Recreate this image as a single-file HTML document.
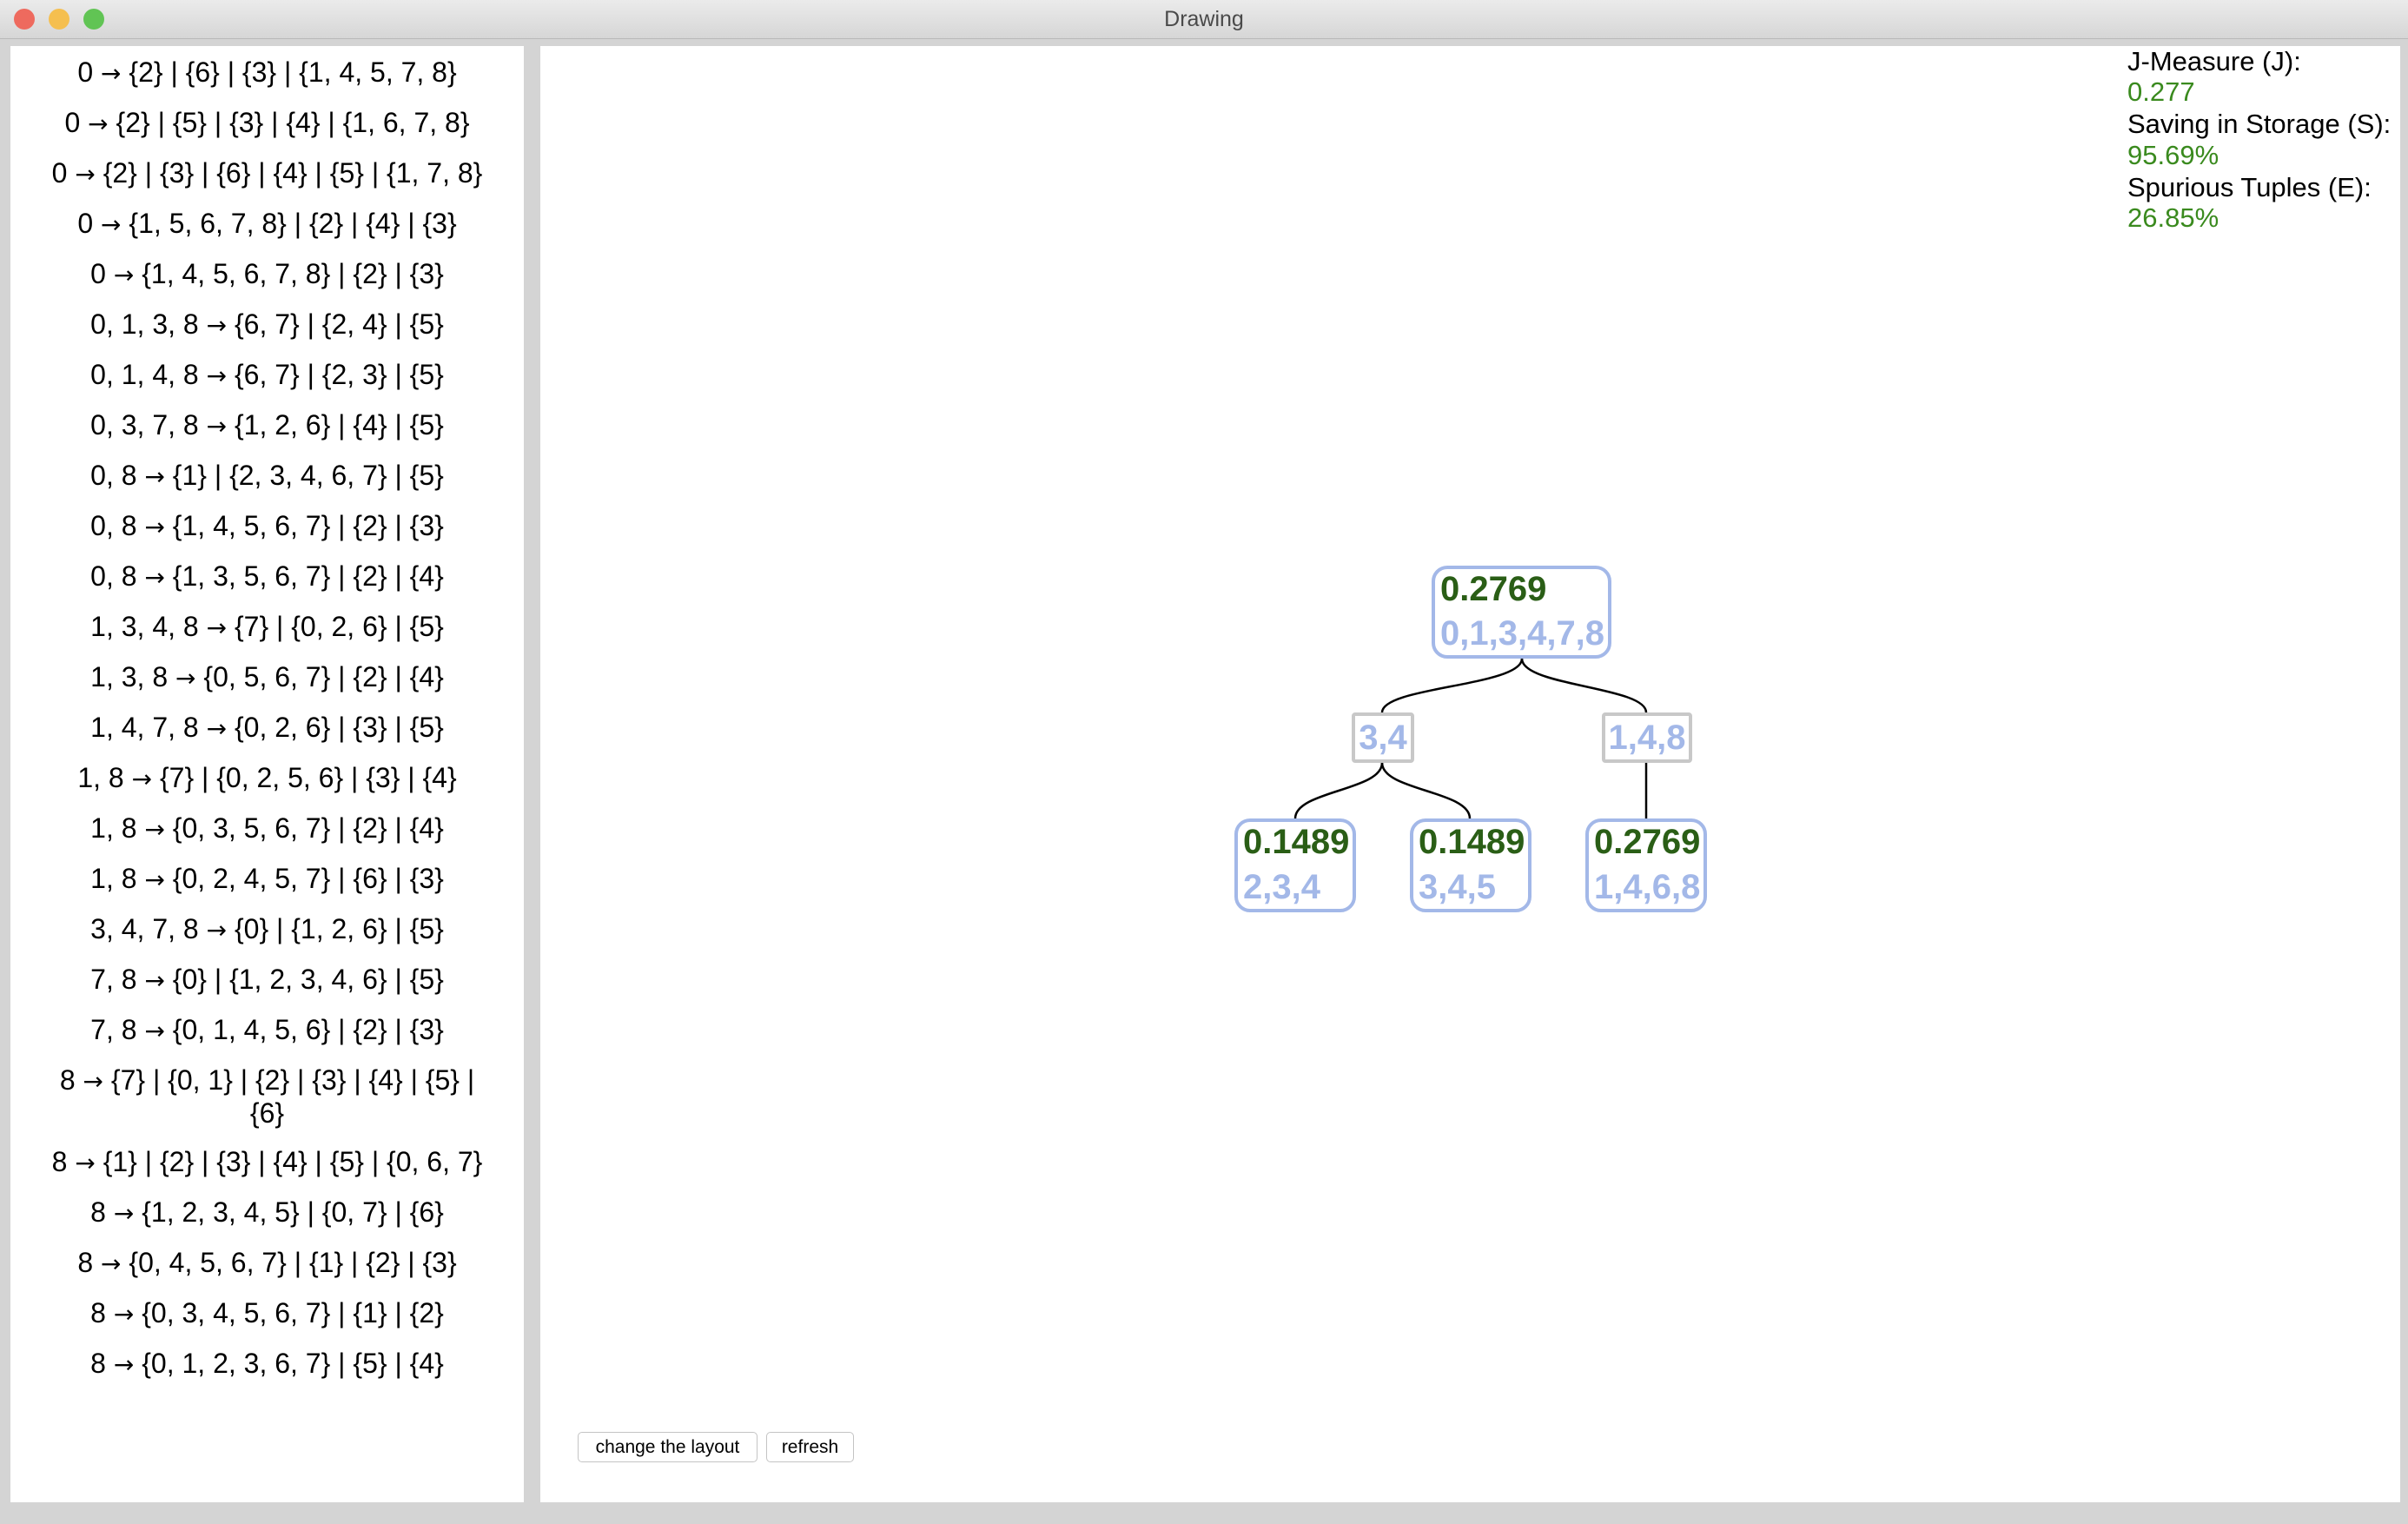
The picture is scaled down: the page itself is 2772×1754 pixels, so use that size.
<!DOCTYPE html>
<html><head><meta charset="utf-8"><style>
body{margin:0;width:2772px;height:1754px;background:#d4d4d4;position:relative;overflow:hidden;font-family:"Liberation Sans",Arial,sans-serif}
.tb{position:absolute;left:0;top:0;width:2772px;height:44px;background:linear-gradient(#ebebeb,#d6d6d6);border-bottom:1px solid #b8b8b8;text-align:center;font-size:25px;line-height:44px;color:#4a4a4a}
.dot{position:absolute;top:10px;width:24px;height:24px;border-radius:50%}
.lp{position:absolute;left:12px;top:53px;width:591px;height:1676px;background:#fff}
.rp{position:absolute;left:622px;top:53px;width:2141px;height:1676px;background:#fff}
.li{position:absolute;left:12px;width:591px;text-align:center;font-size:32px;color:#000;line-height:36px}
.a{font-family:"DejaVu Sans",sans-serif;font-size:28px}
.node{position:absolute;box-sizing:border-box;border:4px solid #a3b8e8;border-radius:18px;background:#fff;font-weight:bold;font-size:40px}
.g{color:#2a5e16}.b{color:#a3b8e8}
.mid{position:absolute;box-sizing:border-box;border:4px solid #c8c8c8;border-radius:4px;background:#fff;font-weight:bold;font-size:40px;color:#a3b8e8;text-align:center;line-height:50px}
.m{position:absolute;left:2449px;font-size:31px;line-height:36px}
.btn{position:absolute;top:1648px;height:35px;box-sizing:border-box;border:1px solid #c4c4c4;border-radius:5px;background:#fff;font-size:21px;line-height:33px;text-align:center}
</style></head><body>
<div class="tb">Drawing</div>
<div class="dot" style="left:16px;background:#ee6a5e"></div>
<div class="dot" style="left:56px;background:#f5bf4f"></div>
<div class="dot" style="left:96px;background:#61c454"></div>
<div class="lp"></div><div class="rp"></div>

<div class="li" style="top:65px">0 <span class="a">→</span> {2} | {6} | {3} | {1, 4, 5, 7, 8}</div>
<div class="li" style="top:123px">0 <span class="a">→</span> {2} | {5} | {3} | {4} | {1, 6, 7, 8}</div>
<div class="li" style="top:181px">0 <span class="a">→</span> {2} | {3} | {6} | {4} | {5} | {1, 7, 8}</div>
<div class="li" style="top:239px">0 <span class="a">→</span> {1, 5, 6, 7, 8} | {2} | {4} | {3}</div>
<div class="li" style="top:297px">0 <span class="a">→</span> {1, 4, 5, 6, 7, 8} | {2} | {3}</div>
<div class="li" style="top:355px">0, 1, 3, 8 <span class="a">→</span> {6, 7} | {2, 4} | {5}</div>
<div class="li" style="top:413px">0, 1, 4, 8 <span class="a">→</span> {6, 7} | {2, 3} | {5}</div>
<div class="li" style="top:471px">0, 3, 7, 8 <span class="a">→</span> {1, 2, 6} | {4} | {5}</div>
<div class="li" style="top:529px">0, 8 <span class="a">→</span> {1} | {2, 3, 4, 6, 7} | {5}</div>
<div class="li" style="top:587px">0, 8 <span class="a">→</span> {1, 4, 5, 6, 7} | {2} | {3}</div>
<div class="li" style="top:645px">0, 8 <span class="a">→</span> {1, 3, 5, 6, 7} | {2} | {4}</div>
<div class="li" style="top:703px">1, 3, 4, 8 <span class="a">→</span> {7} | {0, 2, 6} | {5}</div>
<div class="li" style="top:761px">1, 3, 8 <span class="a">→</span> {0, 5, 6, 7} | {2} | {4}</div>
<div class="li" style="top:819px">1, 4, 7, 8 <span class="a">→</span> {0, 2, 6} | {3} | {5}</div>
<div class="li" style="top:877px">1, 8 <span class="a">→</span> {7} | {0, 2, 5, 6} | {3} | {4}</div>
<div class="li" style="top:935px">1, 8 <span class="a">→</span> {0, 3, 5, 6, 7} | {2} | {4}</div>
<div class="li" style="top:993px">1, 8 <span class="a">→</span> {0, 2, 4, 5, 7} | {6} | {3}</div>
<div class="li" style="top:1051px">3, 4, 7, 8 <span class="a">→</span> {0} | {1, 2, 6} | {5}</div>
<div class="li" style="top:1109px">7, 8 <span class="a">→</span> {0} | {1, 2, 3, 4, 6} | {5}</div>
<div class="li" style="top:1167px">7, 8 <span class="a">→</span> {0, 1, 4, 5, 6} | {2} | {3}</div>
<div class="li" style="top:1225px">8 <span class="a">→</span> {7} | {0, 1} | {2} | {3} | {4} | {5} |<br>{6}</div>
<div class="li" style="top:1319px">8 <span class="a">→</span> {1} | {2} | {3} | {4} | {5} | {0, 6, 7}</div>
<div class="li" style="top:1377px">8 <span class="a">→</span> {1, 2, 3, 4, 5} | {0, 7} | {6}</div>
<div class="li" style="top:1435px">8 <span class="a">→</span> {0, 4, 5, 6, 7} | {1} | {2} | {3}</div>
<div class="li" style="top:1493px">8 <span class="a">→</span> {0, 3, 4, 5, 6, 7} | {1} | {2}</div>
<div class="li" style="top:1551px">8 <span class="a">→</span> {0, 1, 2, 3, 6, 7} | {5} | {4}</div>

<div class="m" style="top:53px">J-Measure (J):</div>
<div class="m" style="top:88px;color:#3a8a1e">0.277</div>
<div class="m" style="top:125px">Saving in Storage (S):</div>
<div class="m" style="top:161px;color:#3a8a1e">95.69%</div>
<div class="m" style="top:198px">Spurious Tuples (E):</div>
<div class="m" style="top:233px;color:#3a8a1e">26.85%</div>

<svg style="position:absolute;left:0;top:0" width="2772" height="1754">
<g fill="none" stroke="#000" stroke-width="2.5">
<path d="M1752 758 C1752 790 1591 790 1591 820"/>
<path d="M1752 758 C1752 790 1895 790 1895 820"/>
<path d="M1591 878 C1591 910 1491 910 1491 942"/>
<path d="M1591 878 C1591 910 1692 910 1692 942"/>
<path d="M1895 878 L1895 942"/>
</g></svg>

<div class="node" style="left:1648px;top:651px;width:207px;height:107px">
<div class="g" style="position:absolute;left:6px;top:-3px;line-height:52px">0.2769</div>
<div class="b" style="position:absolute;left:6px;top:48px;line-height:52px">0,1,3,4,7,8</div></div>
<div class="mid" style="left:1556px;top:820px;width:72px;height:58px">3,4</div>
<div class="mid" style="left:1844px;top:820px;width:104px;height:58px">1,4,8</div>
<div class="node" style="left:1421px;top:942px;width:140px;height:108px">
<div class="g" style="position:absolute;left:6px;top:-3px;line-height:52px">0.1489</div>
<div class="b" style="position:absolute;left:6px;top:49px;line-height:52px">2,3,4</div></div>
<div class="node" style="left:1623px;top:942px;width:140px;height:108px">
<div class="g" style="position:absolute;left:6px;top:-3px;line-height:52px">0.1489</div>
<div class="b" style="position:absolute;left:6px;top:49px;line-height:52px">3,4,5</div></div>
<div class="node" style="left:1825px;top:942px;width:140px;height:108px">
<div class="g" style="position:absolute;left:6px;top:-3px;line-height:52px">0.2769</div>
<div class="b" style="position:absolute;left:6px;top:49px;line-height:52px">1,4,6,8</div></div>

<div class="btn" style="left:665px;width:207px">change the layout</div>
<div class="btn" style="left:882px;width:101px">refresh</div>
</body></html>
